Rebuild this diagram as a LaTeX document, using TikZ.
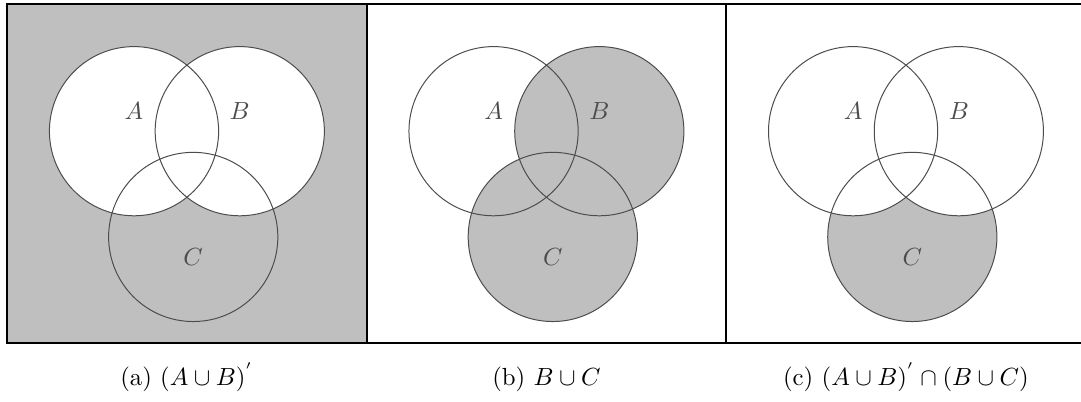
\documentclass[tikz,border=0pt]{standalone}
\tikzset{
	setline/.style={draw=black!70,line width=0.4pt},
	setlabel/.style={text=black!70},
	setfill/.style={fill=black!25},
	panelbox/.style={draw=black,line width=0.8pt},
}
\begin{document}
\begin{tikzpicture}
		
		\useasboundingbox (-1.901,-3.841) rectangle (13.433,1.861);
		
		% (a) complement of A union B
		\fill[setfill] (-1.8,-3) rectangle (3.3,1.8);
		\fill[white] (0,0) circle (1.2);
		\fill[white] (1.5,0) circle (1.2);
		\draw[setline] (0,0) circle (1.2);
		\draw[setline] (1.5,0) circle (1.2);
		\draw[setline] (0.84,-1.5) circle (1.2);
		\draw[panelbox] (-1.8,-3) rectangle (3.3,1.8);
		
		\node[setlabel] (A1) at (0,0.28) {$A$};
		\node[setlabel] (B1) at (1.5,0.28) {$B$};
		\node[setlabel] (C1) at (0.84,-1.79) {$C$};
		\node[anchor=base] (capa) at (0.75,-3.61) {(a) $(A\cup B)^{'}$};
		
		% (b) B union C
		\fill[setfill] (6.6,0) circle (1.2);
		\fill[setfill] (5.94,-1.5) circle (1.2);
		\draw[setline] (5.1,0) circle (1.2);
		\draw[setline] (6.6,0) circle (1.2);
		\draw[setline] (5.94,-1.5) circle (1.2);
		\draw[panelbox] (3.3,-3) rectangle (8.4,1.8);
		
		\node[setlabel] (A2) at (5.1,0.28) {$A$};
		\node[setlabel] (B2) at (6.6,0.28) {$B$};
		\node[setlabel] (C2) at (5.94,-1.79) {$C$};
		\node[anchor=base] (capb) at (5.85,-3.61) {(b) $B\cup C$};
		
		% (c) both together
		\fill[setfill] (11.04,-1.5) circle (1.2);
		\fill[white] (10.2,0) circle (1.2);
		\fill[white] (11.7,0) circle (1.2);
		\draw[setline] (10.2,0) circle (1.2);
		\draw[setline] (11.7,0) circle (1.2);
		\draw[setline] (11.04,-1.5) circle (1.2);
		\draw[panelbox] (8.4,-3) rectangle (13.5,1.8);
		
		\node[setlabel] (A3) at (10.2,0.28) {$A$};
		\node[setlabel] (B3) at (11.7,0.28) {$B$};
		\node[setlabel] (C3) at (11.04,-1.79) {$C$};
		\node[anchor=base] (capc) at (10.95,-3.61) {(c) $(A\cup B)^{'}\cap(B\cup C)$};
		
	\end{tikzpicture}
\end{document}
